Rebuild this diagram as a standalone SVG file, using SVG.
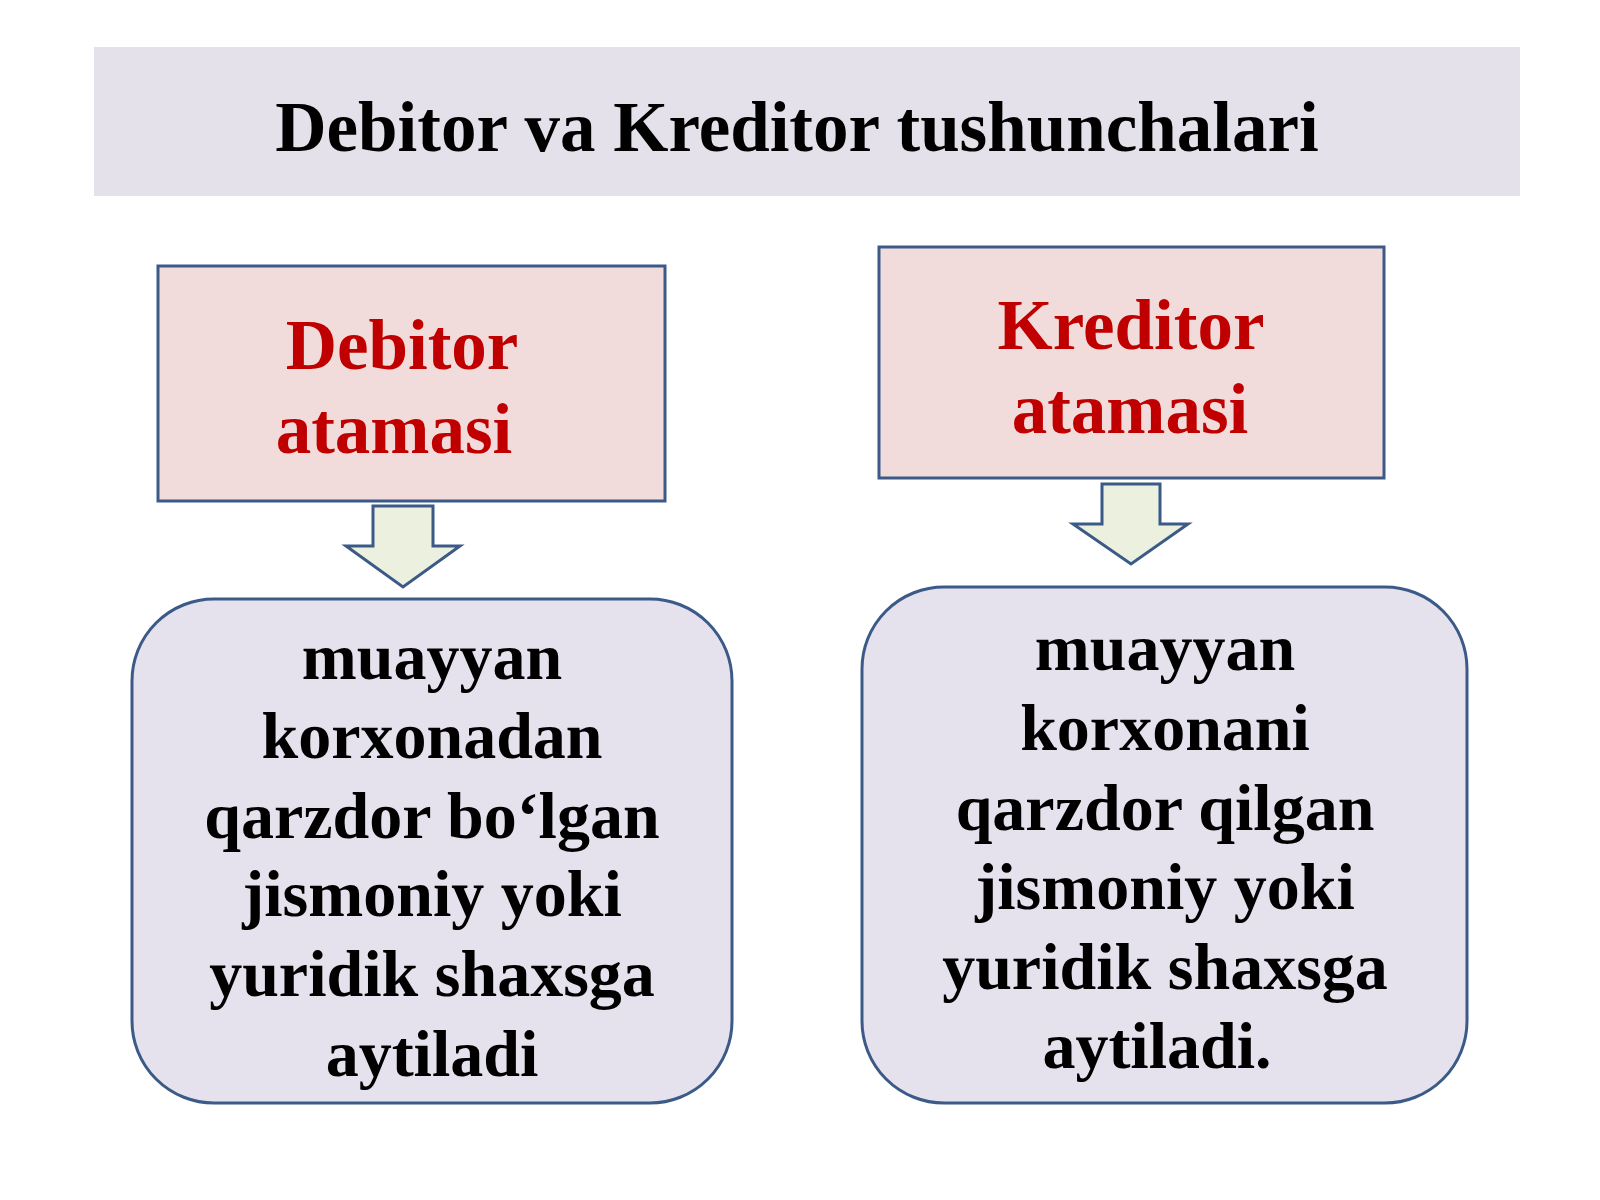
<svg xmlns="http://www.w3.org/2000/svg" width="1600" height="1200" viewBox="0 0 1600 1200">
<style>
.title{font-family:"Liberation Serif","Times New Roman",serif;font-weight:bold;font-size:71px;fill:#000;text-anchor:middle}
.term{fill:#f2dcdb;stroke:#3b5a88;stroke-width:3}
.termtxt{font-family:"Liberation Serif","Times New Roman",serif;font-weight:bold;font-size:71px;fill:#c00000;text-anchor:middle}
.def{fill:#e6e2ed;stroke:#3b5a88;stroke-width:3}
.deftxt{font-family:"Liberation Serif","Times New Roman",serif;font-weight:bold;font-size:66px;fill:#000;text-anchor:middle}
.arrow{fill:#ebf1de;stroke:#3b5a88;stroke-width:3;stroke-linejoin:miter}
</style>
<rect width="1600" height="1200" fill="#ffffff"/>
<g id="title">
<rect x="94" y="47" width="1426" height="149" fill="#e4e1ea"/>
<text class="title" x="797" y="151">Debitor va Kreditor tushunchalari</text>
</g>
<g id="debitor">
<rect class="term" x="158" y="266" width="507" height="235"/>
<text class="termtxt" x="402" y="369">Debitor</text>
<text class="termtxt" x="394" y="453">atamasi</text>
</g>
<g id="kreditor">
<rect class="term" x="879" y="247" width="505" height="231"/>
<text class="termtxt" x="1131" y="349">Kreditor</text>
<text class="termtxt" x="1130" y="433">atamasi</text>
</g>
<g id="connectors">
<polygon class="arrow" points="373,506 433,506 433,546 460,546 403,587 346,546 373,546"/>
<polygon class="arrow" points="1102,484 1160,484 1160,524 1188,524 1131,564 1073,524 1102,524"/>
</g>
<g id="debitor-def">
<rect class="def" x="132" y="599" width="600" height="504" rx="82" ry="82"/>
<text class="deftxt" x="432" y="679">muayyan</text>
<text class="deftxt" x="432" y="758">korxonadan</text>
<text class="deftxt" x="432" y="838">qarzdor bo‘lgan</text>
<text class="deftxt" x="432" y="916">jismoniy yoki</text>
<text class="deftxt" x="432" y="996">yuridik shaxsga</text>
<text class="deftxt" x="432" y="1076">aytiladi</text>
</g>
<g id="kreditor-def">
<rect class="def" x="862" y="587" width="605" height="516" rx="82" ry="82"/>
<text class="deftxt" x="1165" y="670">muayyan</text>
<text class="deftxt" x="1165" y="750">korxonani</text>
<text class="deftxt" x="1165" y="830">qarzdor qilgan</text>
<text class="deftxt" x="1165" y="909">jismoniy yoki</text>
<text class="deftxt" x="1165" y="989">yuridik shaxsga</text>
<text class="deftxt" x="1157" y="1068">aytiladi.</text>
</g>
</svg>
